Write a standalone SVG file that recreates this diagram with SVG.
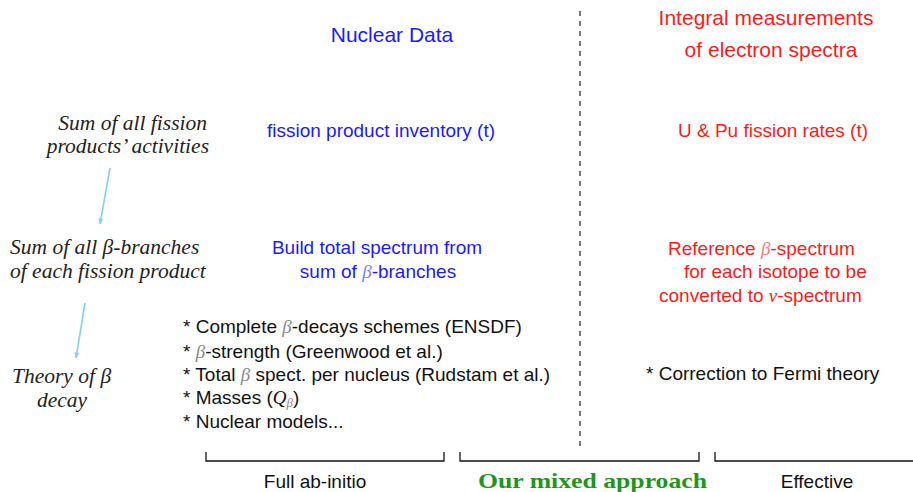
<svg xmlns="http://www.w3.org/2000/svg" width="913" height="492" viewBox="0 0 913 492">
  <defs>
    <marker id="arrowHead" viewBox="0 0 10 10" refX="9" refY="5" markerWidth="8" markerHeight="6" orient="auto" markerUnits="userSpaceOnUse">
      <path d="M0,1 L10,5 L0,9 Z" fill="#87cefa"/>
    </marker>
    <style>
      .sans { font-family: "Liberation Sans", "DejaVu Sans", sans-serif; }
      .serif { font-family: "Liberation Serif", "DejaVu Serif", serif; }
      .ital { font-family: "Liberation Serif", "DejaVu Serif", serif; font-style: italic; font-size: 21.5px; fill: #222; }
      .head { font-size: 21px; }
      .body { font-size: 19px; }
      .blue { fill: #1a1aff; }
      .red { fill: #ff1a1a; }
      .black { fill: #111; }
      .green { fill: #1e961e; }
      .math { font-family: "Liberation Serif", "DejaVu Serif", serif; font-style: italic; }
      .mblue { fill: #7a7aff; }
      .mred { fill: #ff7a7a; }
      .mgray { fill: #888; }
      .bracket { fill: none; stroke: #111; stroke-width: 1.3; }
      .arrow { stroke: #87cefa; stroke-width: 1.6; fill: none; marker-end: url(#arrowHead); }
    </style>
  </defs>

  <!-- column divider -->
  <line x1="580" y1="11" x2="580" y2="448" stroke="#222" stroke-width="1.2" stroke-dasharray="5 5"/>

  <!-- column headers -->
  <g id="nuclear-data-header">
    <text class="sans head blue" x="392" y="42" text-anchor="middle">Nuclear Data</text>
  </g>
  <g id="integral-header">
    <text class="sans head red" x="766" y="25" text-anchor="middle">Integral measurements</text>
    <text class="sans head red" x="771" y="57" text-anchor="middle">of electron spectra</text>
  </g>

  <!-- left-hand level labels -->
  <g id="level-activities">
    <text class="ital" x="207" y="130" text-anchor="end">Sum of all fission</text>
    <text class="ital" x="209" y="153" text-anchor="end">products’ activities</text>
  </g>
  <g id="level-branches">
    <text class="ital" x="10" y="254">Sum of all β-branches</text>
    <text class="ital" x="10" y="278">of each fission product</text>
  </g>
  <g id="level-theory">
    <text class="ital" x="12" y="383">Theory of β</text>
    <text class="ital" x="62" y="407" text-anchor="middle">decay</text>
  </g>

  <!-- nuclear data column -->
  <g id="inventory">
    <text class="sans body blue" x="381" y="137" text-anchor="middle">fission product inventory (t)</text>
  </g>
  <g id="total-spectrum">
    <text class="sans body blue" x="377" y="254" text-anchor="middle">Build total spectrum from</text>
    <text class="sans body blue" x="378" y="278" text-anchor="middle">sum of <tspan class="math mblue">β</tspan>-branches</text>
  </g>
  <g id="data-sources">
    <text class="sans body black" x="183" y="333">* Complete <tspan class="math mgray">β</tspan>-decays schemes (ENSDF)</text>
    <text class="sans body black" x="183" y="358">* <tspan class="math mgray">β</tspan>-strength (Greenwood et al.)</text>
    <text class="sans body black" x="183" y="381">* Total <tspan class="math mgray">β</tspan> spect. per nucleus (Rudstam et al.)</text>
    <text class="sans body black" x="183" y="404">* Masses (<tspan class="math">Q</tspan><tspan class="math mgray" font-size="13" dy="3">β</tspan><tspan dy="-3">)</tspan></text>
    <text class="sans body black" x="183" y="428">* Nuclear models...</text>
  </g>

  <!-- integral measurements column -->
  <g id="fission-rates">
    <text class="sans body red" x="773" y="137" text-anchor="middle">U &amp; Pu fission rates (t)</text>
  </g>
  <g id="reference-spectrum">
    <text class="sans body red" x="668" y="255">Reference <tspan class="math mred">β</tspan>-spectrum</text>
    <text class="sans body red" x="684" y="278">for each isotope to be</text>
    <text class="sans body red" x="659" y="302">converted to <tspan class="math">ν</tspan>-spectrum</text>
  </g>
  <g id="fermi-correction">
    <text class="sans body black" x="646" y="380">* Correction to Fermi theory</text>
  </g>

  <!-- connectors between levels -->
  <g id="connectors">
    <line class="arrow" x1="110" y1="168" x2="100" y2="224"/>
    <line class="arrow" x1="85" y1="303" x2="76" y2="358"/>
  </g>

  <!-- approach brackets -->
  <g id="bracket-ab-initio">
    <path class="bracket" d="M206,452 V461 H444 V452"/>
    <text class="sans body black" x="315" y="488" text-anchor="middle">Full ab-initio</text>
  </g>
  <g id="bracket-mixed">
    <path class="bracket" d="M460,452 V461 H699 V452"/>
    <text class="serif green" font-size="22" font-weight="bold" x="478" y="488" textLength="229" lengthAdjust="spacingAndGlyphs">Our mixed approach</text>
  </g>
  <g id="bracket-effective">
    <path class="bracket" d="M715,452 V461 H913"/>
    <text class="sans body black" x="817" y="488" text-anchor="middle">Effective</text>
  </g>
</svg>
